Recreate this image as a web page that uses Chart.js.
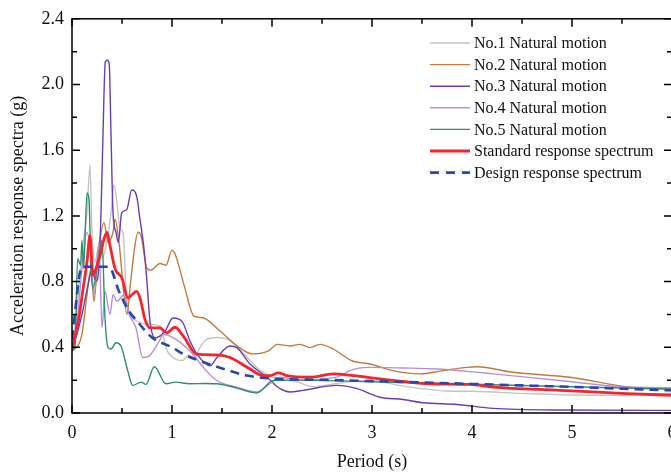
<!DOCTYPE html>
<html>
<head>
<meta charset="utf-8">
<title>Acceleration response spectra</title>
<script src="https://cdn.jsdelivr.net/npm/chart.js@4.4.1/dist/chart.umd.min.js"></script>
<style>
  body { margin: 0; background: #fff; }
  #wrap { width: 671px; height: 473px; overflow: hidden; }
</style>
</head>
<body>
<div id="wrap"><canvas id="spectra-chart" width="700" height="473"></canvas></div>
<script>
// Period axis ticks (s) and acceleration axis ticks (g)
const periodTicks = [0, 1, 2, 3, 4, 5, 6];
const accelTicks = [0, 0.4, 0.8, 1.2, 1.6, 2.0, 2.4];

// No.1 natural motion
const no1Period = [0, 0.04, 0.08, 0.12, 0.15, 0.18, 0.2, 0.23, 0.27, 0.31, 0.35, 0.39, 0.42, 0.45, 0.48, 0.51, 0.55, 0.65, 0.78, 0.88, 0.95, 1.03, 1.11, 1.16, 1.22, 1.28, 1.35, 1.45, 1.55, 1.62, 1.75, 1.88, 2.05, 2.25, 2.41, 2.65, 2.98, 3.25, 3.48, 3.75, 4.0, 4.55, 5.2, 5.6, 6.0];
const no1Accel = [0.40, 0.58, 0.85, 1.08, 1.22, 1.51, 1.10, 0.92, 1.02, 0.95, 1.05, 1.22, 1.39, 1.28, 1.12, 1.10, 0.68, 0.56, 0.54, 0.53, 0.38, 0.33, 0.32, 0.35, 0.33, 0.40, 0.45, 0.46, 0.45, 0.42, 0.34, 0.26, 0.21, 0.19, 0.16, 0.18, 0.20, 0.17, 0.15, 0.134, 0.132, 0.118, 0.108, 0.11, 0.12];

// No.2 natural motion
const no2Period = [0, 0.06, 0.1, 0.15, 0.19, 0.22, 0.26, 0.32, 0.36, 0.41, 0.43, 0.47, 0.52, 0.55, 0.58, 0.62, 0.66, 0.69, 0.75, 0.79, 0.88, 0.94, 1.0, 1.03, 1.12, 1.22, 1.31, 1.46, 1.67, 1.8, 1.97, 2.05, 2.18, 2.28, 2.38, 2.48, 2.61, 2.8, 2.98, 3.21, 3.48, 3.71, 3.95, 4.05, 4.41, 4.98, 5.61, 6.0];
const no2Accel = [0.38, 0.41, 0.48, 0.72, 0.88, 0.68, 0.96, 1.16, 1.04, 1.10, 1.18, 1.04, 0.72, 0.60, 0.76, 0.98, 1.10, 1.08, 0.88, 0.87, 0.91, 0.90, 0.99, 0.97, 0.78, 0.59, 0.58, 0.51, 0.40, 0.36, 0.38, 0.418, 0.408, 0.418, 0.398, 0.418, 0.39, 0.318, 0.298, 0.258, 0.238, 0.258, 0.278, 0.282, 0.248, 0.218, 0.156, 0.15];

// No.3 natural motion
const no3Period = [0, 0.05, 0.1, 0.15, 0.2, 0.24, 0.27, 0.29, 0.31, 0.333, 0.357, 0.373, 0.39, 0.41, 0.44, 0.463, 0.497, 0.547, 0.597, 0.647, 0.68, 0.72, 0.747, 0.78, 0.83, 0.93, 1.01, 1.1, 1.18, 1.25, 1.38, 1.45, 1.58, 1.65, 1.78, 1.95, 2.08, 2.18, 2.31, 2.65, 2.85, 3.08, 3.31, 3.51, 3.85, 4.21, 4.88, 6.0];
const no3Accel = [0.38, 0.48, 0.60, 0.75, 0.87, 0.80, 0.90, 1.22, 1.70, 2.138, 2.148, 2.118, 1.70, 1.22, 1.10, 1.038, 1.218, 1.238, 1.358, 1.318, 1.178, 1.0, 0.818, 0.558, 0.458, 0.498, 0.578, 0.558, 0.438, 0.358, 0.288, 0.338, 0.408, 0.398, 0.298, 0.218, 0.148, 0.128, 0.138, 0.168, 0.148, 0.096, 0.082, 0.062, 0.052, 0.028, 0.018, 0.016];

// No.4 natural motion
const no4Period = [0, 0.05, 0.1, 0.15, 0.19, 0.22, 0.27, 0.30, 0.33, 0.38, 0.41, 0.45, 0.52, 0.573, 0.64, 0.707, 0.773, 0.873, 0.913, 1.013, 1.18, 1.313, 1.447, 1.647, 1.847, 1.98, 2.08, 2.27, 2.647, 2.78, 2.947, 3.31, 3.647, 3.98, 4.21, 4.88, 5.547, 6.0];
const no4Accel = [0.40, 0.55, 0.88, 1.10, 0.96, 0.72, 1.04, 0.52, 0.74, 0.60, 0.72, 0.68, 0.72, 0.598, 0.518, 0.338, 0.348, 0.438, 0.478, 0.458, 0.378, 0.278, 0.198, 0.158, 0.128, 0.178, 0.218, 0.20, 0.218, 0.258, 0.278, 0.274, 0.268, 0.252, 0.238, 0.198, 0.158, 0.154];

// No.5 natural motion
const no5Period = [0, 0.03, 0.056, 0.086, 0.1, 0.116, 0.15, 0.17, 0.19, 0.21, 0.26, 0.30, 0.33, 0.36, 0.39, 0.44, 0.49, 0.557, 0.607, 0.69, 0.74, 0.823, 0.94, 1.04, 1.173, 1.33, 1.447, 1.6, 1.847, 2.013, 2.27, 3.0, 4.0, 5.0, 6.0];
const no5Accel = [0.38, 0.40, 0.94, 0.90, 1.05, 0.88, 1.34, 1.30, 0.88, 0.76, 0.92, 1.05, 0.58, 0.40, 0.39, 0.428, 0.408, 0.258, 0.168, 0.188, 0.174, 0.282, 0.178, 0.188, 0.178, 0.18, 0.178, 0.16, 0.122, 0.198, 0.20, 0.19, 0.175, 0.16, 0.145];

// Standard response spectrum (mean of the records)
const standardPeriod = [0, 0.064, 0.107, 0.15, 0.18, 0.21, 0.25, 0.29, 0.32, 0.35, 0.38, 0.43, 0.5, 0.56, 0.6, 0.645, 0.68, 0.73, 0.78, 0.88, 0.947, 1.03, 1.113, 1.247, 1.447, 1.58, 1.78, 1.913, 1.98, 2.063, 2.147, 2.38, 2.613, 2.813, 3.08, 3.31, 3.58, 3.98, 4.21, 4.88, 5.55, 6.0];
const standardAccel = [0.39, 0.56, 0.74, 0.92, 1.08, 0.84, 0.90, 0.98, 1.06, 1.10, 1.02, 0.88, 0.82, 0.70, 0.72, 0.74, 0.70, 0.57, 0.518, 0.518, 0.488, 0.522, 0.468, 0.358, 0.354, 0.338, 0.268, 0.228, 0.228, 0.244, 0.228, 0.218, 0.238, 0.228, 0.208, 0.192, 0.178, 0.174, 0.158, 0.138, 0.118, 0.108];

// Design response spectrum
const designPeriod = [0, 0.1, 0.37, 0.47, 0.57, 0.65, 0.8, 1.0, 1.11, 1.31, 1.51, 1.75, 2.05, 2.5, 3.0, 3.5, 4.0, 4.5, 5.0, 5.5, 6.0];
const designAccel = [0.45, 0.89, 0.89, 0.74, 0.62, 0.56, 0.46, 0.40, 0.36, 0.31, 0.27, 0.228, 0.208, 0.202, 0.194, 0.186, 0.177, 0.168, 0.159, 0.148, 0.138];

const FONT = "'Liberation Serif', 'Times New Roman', serif";

// Helper: zip period and acceleration arrays into {x, y} points
function toPoints(periods, values) {
  return periods.map(function (t, i) {
    return { x: t, y: values[i] };
  });
}

// Helper: one line dataset
function makeSeries(label, periods, values, color, width, order, dash) {
  return {
    label: label,
    data: toPoints(periods, values),
    borderColor: color,
    backgroundColor: color,
    borderWidth: width,
    borderDash: dash || [],
    pointRadius: 0,
    fill: false,
    cubicInterpolationMode: "monotone",
    order: order,
  };
}

// Frame with inward major/minor ticks on all four sides
const frameTicks = {
  id: "frameTicks",
  afterDatasetsDraw(chart) {
    const { ctx, chartArea: a, scales } = chart;
    const x = scales.x;
    const y = scales.y;
    ctx.save();
    ctx.strokeStyle = "#000";
    ctx.lineWidth = 1.5;
    ctx.strokeRect(a.left, a.top, a.right - a.left, a.bottom - a.top);

    ctx.beginPath();
    for (let i = 0; i <= 12; i++) {
      const px = x.getPixelForValue(i * 0.5);
      const len = i % 2 === 0 ? 8 : 5;
      ctx.moveTo(px, a.bottom);
      ctx.lineTo(px, a.bottom - len);
      ctx.moveTo(px, a.top);
      ctx.lineTo(px, a.top + len);
    }
    for (let i = 0; i <= 12; i++) {
      const py = y.getPixelForValue(i * 0.2);
      const len = i % 2 === 0 ? 8 : 5;
      ctx.moveTo(a.left, py);
      ctx.lineTo(a.left + len, py);
      ctx.moveTo(a.right, py);
      ctx.lineTo(a.right - len, py);
    }
    ctx.stroke();
    ctx.restore();
  },
};

// Legend drawn inside the plot, top right
const insideLegend = {
  id: "insideLegend",
  afterDraw(chart) {
    const ctx = chart.ctx;
    const left = 430;
    const top = 43;
    const rowGap = 21.6;
    ctx.save();
    ctx.font = "16px " + FONT;
    ctx.textBaseline = "middle";
    ctx.textAlign = "left";
    chart.data.datasets.forEach(function (ds, i) {
      const yy = top + i * rowGap;
      ctx.strokeStyle = ds.borderColor;
      ctx.lineWidth = ds.borderWidth;
      ctx.setLineDash(ds.borderDash.length ? [9, 7] : []);
      ctx.beginPath();
      ctx.moveTo(left, yy);
      ctx.lineTo(left + 40, yy);
      ctx.stroke();
      ctx.setLineDash([]);
      ctx.fillStyle = "#111";
      ctx.fillText(ds.label, left + 44, yy + 1);
    });
    ctx.restore();
  },
};

function createSpectraChart() {
  const ctx = document.getElementById("spectra-chart").getContext("2d");

  Chart.defaults.font.family = FONT;
  Chart.defaults.color = "#111";

  new Chart(ctx, {
    type: "line",
    data: {
      datasets: [
        makeSeries("No.1 Natural motion", no1Period, no1Accel, "#c4c4c4", 1.4, 7),
        makeSeries("No.2 Natural motion", no2Period, no2Accel, "#c47a3c", 1.4, 6),
        makeSeries("No.3 Natural motion", no3Period, no3Accel, "#6b3db3", 1.4, 5),
        makeSeries("No.4 Natural motion", no4Period, no4Accel, "#b68fdb", 1.4, 4),
        makeSeries("No.5 Natural motion", no5Period, no5Accel, "#2f8f6b", 1.4, 3),
        makeSeries("Standard response spectrum", standardPeriod, standardAccel, "#f7252b", 2.8, 1),
        makeSeries("Design response spectrum", designPeriod, designAccel, "#2a47ad", 2.6, 0, [9, 6]),
      ],
    },
    options: {
      responsive: false,
      animation: false,
      layout: { padding: { top: 13, right: 28, left: 0, bottom: 0 } },
      plugins: {
        legend: { display: false },
        tooltip: { enabled: false },
      },
      scales: {
        x: {
          type: "linear",
          min: 0,
          max: 6,
          afterFit: function (scale) { scale.height = 60; },
          afterBuildTicks: function (scale) {
            scale.ticks = periodTicks.map(function (v) { return { value: v }; });
          },
          grid: { display: false, drawTicks: false },
          border: { display: false },
          ticks: {
            padding: 9,
            font: { size: 18 },
            callback: function (v) { return String(v); },
          },
          title: {
            display: true,
            text: "Period (s)",
            font: { size: 18 },
            padding: { top: 0, bottom: 0 },
          },
        },
        y: {
          min: 0,
          max: 2.4,
          afterFit: function (scale) { scale.width = 72; },
          afterBuildTicks: function (scale) {
            scale.ticks = accelTicks.map(function (v) { return { value: v }; });
          },
          grid: { display: false, drawTicks: false },
          border: { display: false },
          ticks: {
            padding: 8,
            font: { size: 18 },
            callback: function (v) { return Number(v).toFixed(1); },
          },
          title: {
            display: true,
            text: "Acceleration response spectra (g)",
            font: { size: 18 },
            padding: { top: 7, bottom: 0 },
          },
        },
      },
    },
    plugins: [frameTicks, insideLegend],
  });
}

document.addEventListener("DOMContentLoaded", createSpectraChart);
</script>
</body>
</html>
